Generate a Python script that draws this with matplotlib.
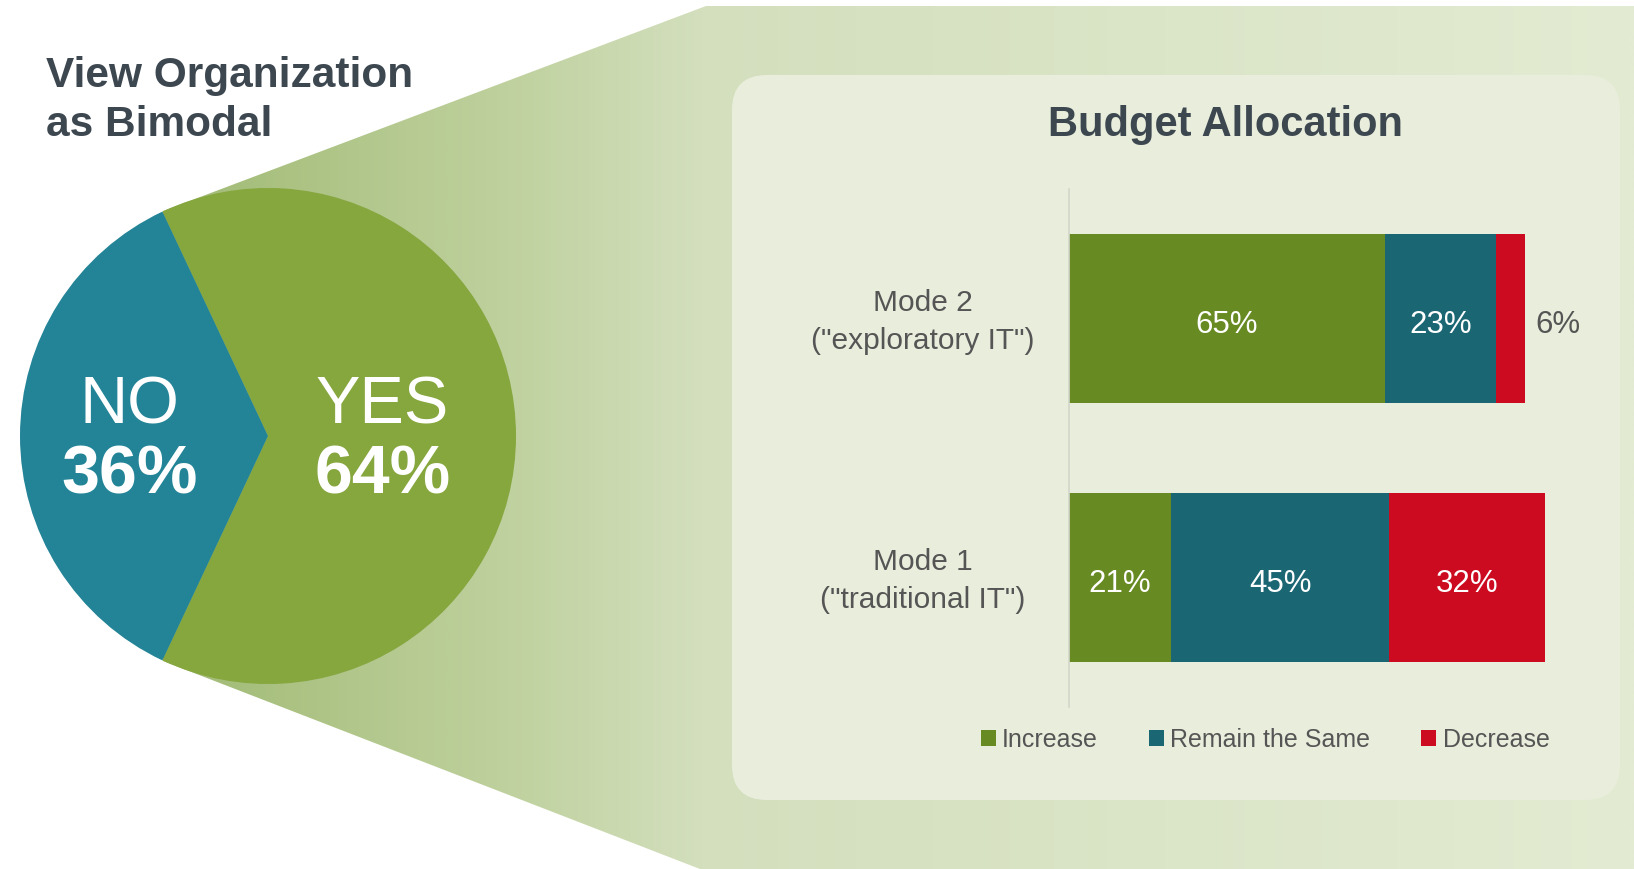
import matplotlib
matplotlib.use('Agg')
import matplotlib.pyplot as plt
import numpy as np
from matplotlib.patches import Polygon, FancyBboxPatch, Patch
from matplotlib.colors import LinearSegmentedColormap

# ---------------- data ----------------
pie_labels = ['YES', 'NO']
pie_values = [64, 36]

categories = ['Mode 1\n("traditional IT")', 'Mode 2\n("exploratory IT")']
series_names = ['Increase', 'Remain the Same', 'Decrease']
increase = [21, 65]
remain = [45, 23]
decrease = [32, 6]

left_title = ['View Organization', 'as Bimodal']
bar_title = 'Budget Allocation'

# ---------------- style ----------------
W, H = 1634, 869
plt.rcParams['font.family'] = ['Liberation Sans', 'DejaVu Sans']
pie_colors = ['#86a63e', '#238497']
bar_colors = ['#678a23', '#1b6673', '#cc0a20']
title_color = '#3d4750'
label_color = '#555555'

fig = plt.figure(figsize=(W / 100, H / 100), dpi=100)
fig.patch.set_facecolor('white')

# background axes in pixel coordinates
bg = fig.add_axes([0, 0, 1, 1])
bg.set_xlim(0, W)
bg.set_ylim(H, 0)
bg.axis('off')

# funnel gradient
stops = [(0.0, '#9fb972'), (0.24, '#bfd19e'), (0.37, '#d3dfbd'), (1.0, '#e3ebd2')]
cmap = LinearSegmentedColormap.from_list('funnel', stops)
grad = np.linspace(0, 1, 512).reshape(1, -1)
im = bg.imshow(grad, cmap=cmap, extent=[150, W, H, 0], aspect='auto',
               interpolation='bilinear', zorder=0)
poly = Polygon([(163, 211), (706, 6), (W, 6), (W, H), (700, H), (163, 661)],
               closed=True, transform=bg.transData, facecolor='none',
               edgecolor='none')
bg.add_patch(poly)
im.set_clip_path(poly)
bg.set_xlim(0, W)
bg.set_ylim(H, 0)

# rounded panel
panel = FancyBboxPatch((732, 75), 888, 725,
                       boxstyle='round,pad=0,rounding_size=35',
                       facecolor='#e9eedc', edgecolor='none', zorder=1)
bg.add_patch(panel)

# titles
bg.text(46, 87, left_title[0], fontsize=30.5, fontweight='bold',
        color=title_color, ha='left', va='baseline')
bg.text(46, 136, left_title[1], fontsize=30.5, fontweight='bold',
        color=title_color, ha='left', va='baseline')
bg.text(1226, 136, bar_title, fontsize=30, fontweight='bold',
        color=title_color, ha='center', va='baseline', zorder=3)

# ---------------- pie ----------------
R = 248
cx, cy = 268, 436
pax = fig.add_axes([(cx - R) / W, (H - cy - R) / H, 2 * R / W, 2 * R / H])
wedges, _ = pax.pie(pie_values, colors=pie_colors,
                    startangle=-pie_values[0] / 100 * 180,
                    counterclock=True, radius=1,
                    wedgeprops=dict(linewidth=0))
pax.set_xlim(-1, 1)
pax.set_ylim(-1, 1)
pax.axis('off')
label_dist = [0.46, 0.56]
for w, name, val, d in zip(wedges, pie_labels, pie_values, label_dist):
    theta = np.deg2rad((w.theta1 + w.theta2) / 2)
    x = d * np.cos(theta)
    pax.text(x, 0.05, name, ha='center', va='baseline', fontsize=48,
             color='white')
    pax.text(x, -0.232, f'{val}%', ha='center', va='baseline', fontsize=49,
             fontweight='bold', color='white')

# ---------------- stacked bars ----------------
x0px = 1068.6
pxper = 4.86
right_px = 1600
bax = fig.add_axes([x0px / W, (H - 707) / H, (right_px - x0px) / W, (707 - 189) / H])
bax.set_facecolor('none')
y = np.arange(len(categories))
lefts = np.zeros(len(categories))
base_off = 0.055
for name, vals, color in zip(series_names, [increase, remain, decrease], bar_colors):
    vals = np.array(vals, dtype=float)
    bax.barh(y, vals, left=lefts, height=0.65, color=color, edgecolor='none')
    for yi, v, l in zip(y, vals, lefts):
        if v >= 10:
            bax.text(l + v / 2, yi - base_off, f'{v:.0f}%', ha='center',
                     va='baseline', color='white', fontsize=22.5)
        else:
            bax.text(l + v + 10 / pxper, yi - base_off, f'{v:.0f}%', ha='left',
                     va='baseline', color=label_color, fontsize=22.5)
    lefts = lefts + vals

bax.set_xlim(0, (right_px - x0px) / pxper)
bax.set_ylim(-0.5, 1.5)
for s in ['top', 'right', 'bottom']:
    bax.spines[s].set_visible(False)
bax.spines['left'].set_color('#d3d7ca')
bax.spines['left'].set_linewidth(1.2)
bax.set_xticks([])
bax.set_yticks([])

# category labels (centred to the left of the axis)
label_x = (923 - x0px) / pxper
for yi, cat in zip(y, categories):
    bax.text(label_x, yi - 0.015, cat, ha='center', va='center',
             multialignment='center', linespacing=1.45, fontsize=21.5,
             color=label_color, clip_on=False)

# legend
handles = [Patch(facecolor=c, edgecolor='none') for c in bar_colors]
fig.legend(handles, series_names, loc='center',
           bbox_to_anchor=(1265 / W, 1 - 740 / H), ncol=3, frameon=False,
           fontsize=18, handlelength=0.6, handleheight=0.6,
           handletextpad=0.25, columnspacing=2.05, labelcolor=label_color,
           borderaxespad=0, borderpad=0)

fig.savefig('out.png', dpi=100, facecolor='white')
